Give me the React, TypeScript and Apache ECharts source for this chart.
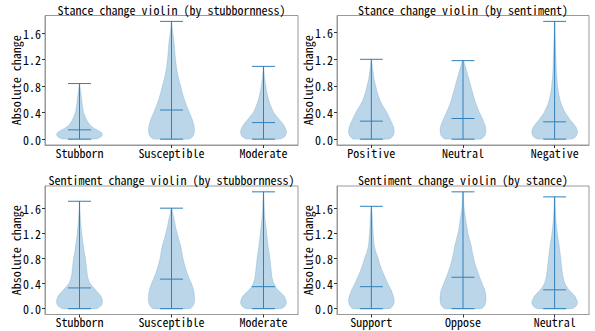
import React, { useEffect, useRef } from 'react';
import * as echarts from 'echarts';

const FONT = "'Noto Sans Mono CJK SC', 'DejaVu Sans Mono', monospace";
const FILL = 'rgba(31,119,180,0.3)';
const LINE = '#2f80bd';
const FRAME = '#999999';

// ---------- data ----------
const panelTitles = [
  'Stance change violin (by stubbornness)',
  'Stance change violin (by sentiment)',
  'Sentiment change violin (by stubbornness)',
  'Sentiment change violin (by stance)',
];
const yAxisName = 'Absolute change';
const yTickValues = [0, 0.4, 0.8, 1.2, 1.6];

// Panel 1: stance change by stubbornness
const stubbornnessCats = ['Stubborn', 'Susceptible', 'Moderate'];
const stanceByStubbornMax = [0.84, 1.78, 1.1];
const stanceByStubbornMean = [0.14, 0.44, 0.25];
const stanceStubbornProfile = [[0, 0.7], [0.03, 0.92], [0.07, 1.0], [0.1, 0.95], [0.15, 0.72], [0.2, 0.5], [0.25, 0.38], [0.3, 0.3], [0.4, 0.18], [0.5, 0.13], [0.6, 0.1], [0.7, 0.06], [0.8, 0.02], [0.84, 0.01]];
const stanceSusceptibleProfile = [[0, 0.78], [0.05, 0.95], [0.12, 1.0], [0.2, 0.98], [0.3, 0.9], [0.4, 0.78], [0.5, 0.66], [0.6, 0.56], [0.7, 0.47], [0.8, 0.4], [0.9, 0.32], [1.0, 0.26], [1.1, 0.21], [1.2, 0.18], [1.3, 0.15], [1.4, 0.13], [1.5, 0.1], [1.6, 0.06], [1.7, 0.03], [1.78, 0.01]];
const stanceModerateProfile = [[0, 0.72], [0.04, 0.93], [0.1, 1.0], [0.17, 0.95], [0.25, 0.8], [0.3, 0.68], [0.4, 0.45], [0.5, 0.32], [0.6, 0.22], [0.7, 0.15], [0.8, 0.1], [0.9, 0.06], [1.0, 0.03], [1.1, 0.01]];

// Panel 2: stance change by sentiment
const sentimentCats = ['Positive', 'Neutral', 'Negative'];
const stanceBySentimentMax = [1.2, 1.18, 1.77];
const stanceBySentimentMean = [0.27, 0.31, 0.26];
const stancePositiveProfile = [[0, 0.78], [0.05, 0.95], [0.12, 1.0], [0.2, 0.95], [0.3, 0.82], [0.4, 0.68], [0.5, 0.5], [0.6, 0.36], [0.7, 0.26], [0.8, 0.19], [0.9, 0.12], [1.0, 0.08], [1.1, 0.04], [1.2, 0.01]];
const stanceNeutralProfile = [[0, 0.78], [0.05, 0.95], [0.12, 1.0], [0.2, 0.97], [0.3, 0.86], [0.4, 0.72], [0.5, 0.6], [0.6, 0.5], [0.7, 0.42], [0.8, 0.34], [0.9, 0.26], [1.0, 0.18], [1.1, 0.1], [1.18, 0.02]];
const stanceNegativeProfile = [[0, 0.75], [0.04, 0.93], [0.1, 1.0], [0.17, 0.95], [0.25, 0.78], [0.3, 0.66], [0.4, 0.46], [0.5, 0.32], [0.6, 0.23], [0.7, 0.17], [0.8, 0.13], [1.0, 0.08], [1.2, 0.06], [1.4, 0.04], [1.6, 0.02], [1.77, 0.01]];

// Panel 3: sentiment change by stubbornness
const sentimentByStubbornMax = [1.71, 1.6, 1.86];
const sentimentByStubbornMean = [0.33, 0.47, 0.35];
const sentStubbornProfile = [[0, 0.75], [0.05, 0.95], [0.12, 1.0], [0.2, 0.93], [0.3, 0.7], [0.4, 0.46], [0.5, 0.36], [0.6, 0.32], [0.7, 0.29], [0.8, 0.26], [0.9, 0.21], [1.0, 0.17], [1.1, 0.13], [1.2, 0.1], [1.4, 0.05], [1.6, 0.02], [1.71, 0.01]];
const sentSusceptibleProfile = [[0, 0.8], [0.05, 0.95], [0.12, 1.0], [0.2, 1.0], [0.3, 0.96], [0.4, 0.87], [0.5, 0.75], [0.6, 0.65], [0.7, 0.57], [0.8, 0.5], [0.9, 0.45], [1.0, 0.4], [1.1, 0.32], [1.2, 0.25], [1.3, 0.18], [1.4, 0.13], [1.5, 0.07], [1.6, 0.02]];
const sentModerateProfile = [[0, 0.75], [0.04, 0.93], [0.1, 1.0], [0.2, 0.9], [0.3, 0.62], [0.4, 0.45], [0.5, 0.37], [0.6, 0.34], [0.7, 0.31], [0.8, 0.28], [1.0, 0.2], [1.2, 0.14], [1.4, 0.08], [1.6, 0.04], [1.86, 0.01]];

// Panel 4: sentiment change by stance
const stanceCats = ['Support', 'Oppose', 'Neutral'];
const sentimentByStanceMax = [1.63, 1.86, 1.78];
const sentimentByStanceMean = [0.35, 0.5, 0.3];
const sentSupportProfile = [[0, 0.8], [0.05, 0.95], [0.12, 1.0], [0.2, 0.96], [0.3, 0.86], [0.4, 0.72], [0.5, 0.6], [0.6, 0.48], [0.7, 0.38], [0.8, 0.3], [0.9, 0.2], [1.0, 0.13], [1.2, 0.08], [1.4, 0.05], [1.63, 0.01]];
const sentOpposeProfile = [[0, 0.8], [0.05, 0.95], [0.12, 1.0], [0.2, 1.0], [0.3, 0.95], [0.4, 0.84], [0.5, 0.73], [0.6, 0.63], [0.7, 0.54], [0.8, 0.47], [0.9, 0.41], [1.0, 0.36], [1.1, 0.29], [1.2, 0.22], [1.3, 0.17], [1.4, 0.13], [1.5, 0.09], [1.6, 0.05], [1.86, 0.01]];
const sentNeutralProfile = [[0, 0.75], [0.04, 0.93], [0.1, 1.0], [0.2, 0.88], [0.3, 0.62], [0.4, 0.45], [0.5, 0.37], [0.6, 0.33], [0.7, 0.3], [0.8, 0.27], [1.0, 0.2], [1.2, 0.12], [1.4, 0.06], [1.6, 0.03], [1.78, 0.01]];

const panels = [
  { title: panelTitles[0], cats: stubbornnessCats, max: stanceByStubbornMax, mean: stanceByStubbornMean, profiles: [stanceStubbornProfile, stanceSusceptibleProfile, stanceModerateProfile] },
  { title: panelTitles[1], cats: sentimentCats, max: stanceBySentimentMax, mean: stanceBySentimentMean, profiles: [stancePositiveProfile, stanceNeutralProfile, stanceNegativeProfile] },
  { title: panelTitles[2], cats: stubbornnessCats, max: sentimentByStubbornMax, mean: sentimentByStubbornMean, profiles: [sentStubbornProfile, sentSusceptibleProfile, sentModerateProfile] },
  { title: panelTitles[3], cats: stanceCats, max: sentimentByStanceMax, mean: sentimentByStanceMean, profiles: [sentSupportProfile, sentOpposeProfile, sentNeutralProfile] },
];

// ---------- layout ----------
const gridRects = [
  { left: 45, top: 15.5, width: 253, height: 129.5 },
  { left: 337, top: 15.5, width: 252, height: 129.5 },
  { left: 45, top: 186, width: 253, height: 128.5 },
  { left: 337, top: 186, width: 252, height: 128.5 },
];
const titleTops = [3, 3, 173, 173];

function buildOption() {
  const grid: any[] = [];
  const xAxis: any[] = [];
  const yAxis: any[] = [];
  const series: any[] = [];
  const title: any[] = [];
  panels.forEach((p, k) => {
    const r = gridRects[k];
    grid.push({ left: r.left, top: r.top, width: r.width, height: r.height, show: true, borderColor: FRAME, borderWidth: 1, backgroundColor: 'transparent', containLabel: false });
    title.push({
      text: p.title, left: r.left + r.width / 2, top: titleTops[k], textAlign: 'center', padding: 0,
      textStyle: { fontFamily: FONT, fontSize: 12, fontWeight: 'normal', color: '#000' },
    });
    const dataMax = Math.max(...p.max);
    xAxis.push({
      type: 'value', gridIndex: k, min: 0.625, max: 3.375,
      axisLine: { show: true, onZero: false, lineStyle: { color: FRAME, width: 1 } },
      axisTick: { show: true, length: 3, customValues: [1, 2, 3], lineStyle: { color: '#333' } },
      axisLabel: { show: true, customValues: [1, 2, 3], margin: 1, lineHeight: 12, formatter: (v: number) => p.cats[Math.round(v) - 1] ?? '', fontFamily: FONT, fontSize: 12, color: '#000' },
      splitLine: { show: false },
    });
    yAxis.push({
      type: 'value', gridIndex: k, min: -0.05 * dataMax, max: 1.05 * dataMax,
      name: yAxisName, nameLocation: 'middle', nameGap: 23.5, nameMoveOverlap: false,
      nameTextStyle: { fontFamily: FONT, fontSize: 12, color: '#000' },
      axisLine: { show: true, onZero: false, lineStyle: { color: FRAME, width: 1 } },
      axisTick: { show: true, length: 3, customValues: yTickValues, lineStyle: { color: '#333' } },
      axisLabel: { show: true, customValues: yTickValues, margin: 4, formatter: (v: number) => v.toFixed(1), fontFamily: FONT, fontSize: 12, color: '#000' },
      splitLine: { show: false },
    });
    series.push({
      type: 'custom', coordinateSystem: 'cartesian2d', xAxisIndex: k, yAxisIndex: k,
      data: p.cats.map((_, i) => [i + 1, p.mean[i]]),
      renderItem: (params: any, api: any) => {
        const i = params.dataIndex;
        const pos = api.value(0);
        const mean = api.value(1);
        const prof = p.profiles[i];
        const vmax = p.max[i];
        const half = 0.25;
        const rightSide = prof.map(([y, w]) => api.coord([pos + w * half, y]));
        const leftSide = prof.slice().reverse().map(([y, w]) => api.coord([pos - w * half, y]));
        const pts = rightSide.concat(leftSide);
        const line = (a: number[], b: number[]) => ({
          type: 'line', shape: { x1: a[0], y1: a[1], x2: b[0], y2: b[1] },
          style: { stroke: LINE, lineWidth: 1 },
        });
        return {
          type: 'group',
          children: [
            { type: 'polygon', shape: { points: pts, smooth: 0.2 }, style: { fill: FILL, stroke: FILL, lineWidth: 0.6 } },
            line(api.coord([pos, 0]), api.coord([pos, vmax])),
            line(api.coord([pos - 0.125, vmax]), api.coord([pos + 0.125, vmax])),
            line(api.coord([pos - 0.125, 0]), api.coord([pos + 0.125, 0])),
            line(api.coord([pos - 0.125, mean]), api.coord([pos + 0.125, mean])),
          ],
        };
      },
    });
  });
  return { animation: false, backgroundColor: '#ffffff', title, grid, xAxis, yAxis, series };
}

export default function App() {
  const ref = useRef<HTMLDivElement>(null);
  useEffect(() => {
    if (!ref.current) return;
    const chart = echarts.init(ref.current, undefined, { renderer: 'svg' });
    chart.setOption(buildOption() as any);
    return () => chart.dispose();
  }, []);
  return <div ref={ref} style={{ position: 'absolute', left: 0, top: 0, width: 595, height: 331, background: '#fff' }} />;
}
